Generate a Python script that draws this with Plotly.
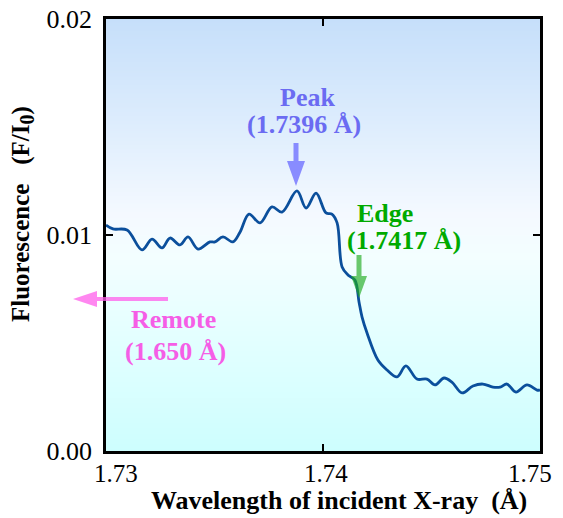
import plotly.graph_objects as go

# ---- data ----
wavelength = [1.73000, 1.73032, 1.73097, 1.73166, 1.73212, 1.73258, 1.73295, 1.73341,
              1.73378, 1.73424, 1.73479, 1.73502, 1.73539, 1.73585, 1.73618, 1.73659,
              1.73710, 1.73765, 1.73811, 1.73880, 1.73922, 1.73968, 1.74014, 1.74041,
              1.74065, 1.74088, 1.74115, 1.74147, 1.74166, 1.74180, 1.74203, 1.74253,
              1.74295, 1.74341, 1.74382, 1.74433, 1.74479, 1.74516, 1.74558, 1.74594,
              1.74641, 1.74691, 1.74737, 1.74783, 1.74816, 1.74848, 1.74889, 1.74940,
              1.74986, 1.75000]
fluorescence = [0.01046, 0.01028, 0.01023, 0.00931, 0.00981, 0.00940, 0.00986, 0.00954,
                0.00991, 0.00935, 0.00968, 0.00968, 0.00991, 0.00968, 0.01014, 0.01097,
                0.01056, 0.01130, 0.01106, 0.01204, 0.01125, 0.01194, 0.01102, 0.01097,
                0.01056, 0.00852, 0.00815, 0.00792, 0.00690, 0.00620, 0.00546, 0.00421,
                0.00375, 0.00343, 0.00394, 0.00333, 0.00333, 0.00306, 0.00338, 0.00319,
                0.00269, 0.00301, 0.00310, 0.00296, 0.00296, 0.00310, 0.00273, 0.00306,
                0.00282, 0.00282]

x_ticks = [1.73, 1.74, 1.75]
x_tick_labels = ["1.73", "1.74", "1.75"]
y_ticks = [0.00, 0.01, 0.02]
y_tick_labels = ["0.00", "0.01", "0.02"]

x_title = "Wavelength of incident X-ray\u00a0\u00a0(Å)"
y_title = "Fluorescence\u00a0\u00a0\u00a0(F/I<sub><span style=\"font-size:20px\">0</span></sub>)"

peak_lines = ["Peak", "(1.7396 Å)"]
edge_lines = ["Edge", "(1.7417 Å)"]
remote_lines = ["Remote", "(1.650 Å)"]

# background gradient stops (fraction of y range, colour)
bg_levels = [0.0, 0.25, 0.45, 0.55, 0.75, 1.0]
bg_colors = ["#cdfefe", "#e2ffff", "#f3feff", "#f4f9ff", "#deedfd", "#c6dffa"]

FONT = "Liberation Serif, Times New Roman, serif"

# plot-area pixel geometry: left 106, width 434, top 19, height 432
L, T, W, H = 106, 19, 434, 432
def px(xp):
    return (xp - L) / float(W)
def py(yp):
    return (T + H - yp) / float(H)

fig = go.Figure()

# gradient background via smoothed heatmap
ys = [0.02 * f for f in bg_levels]
fig.add_trace(go.Heatmap(
    x=[1.73, 1.75], y=ys, z=[[f, f] for f in bg_levels],
    colorscale=[[f, c] for f, c in zip(bg_levels, bg_colors)],
    zmin=0, zmax=1, zsmooth="best", showscale=False, hoverinfo="skip"))

fig.add_trace(go.Scatter(
    x=wavelength, y=fluorescence, mode="lines",
    line=dict(color="#0b4f9c", width=2.8, shape="spline", smoothing=1.0),
    hoverinfo="skip", showlegend=False))

ann = []
def txt(t, xp, yp, color, size, bold=True, angle=0):
    ann.append(dict(text=("<b>%s</b>" % t) if bold else t, xref="paper", yref="paper",
                    x=px(xp), y=py(yp), showarrow=False, textangle=angle,
                    xanchor="center", yanchor="middle",
                    font=dict(family=FONT, size=size, color=color)))

# callout labels
txt(peak_lines[0], 307, 98, "#6b6bf2", 26)
txt(peak_lines[1], 304, 124, "#6b6bf2", 26)
txt(edge_lines[0], 385, 213, "#00aa00", 26)
txt(edge_lines[1], 404, 240, "#00aa00", 26)
txt(remote_lines[0], 173, 319, "#f55ee6", 26)
txt(remote_lines[1], 175, 351, "#f55ee6", 26)

# x tick labels (first/last nudged inward as in the reference)
x_label_shift = [10, 3, -10]
for v, lab, sh in zip(x_ticks, x_tick_labels, x_label_shift):
    ann.append(dict(text=lab, xref="x", yref="paper", x=v, y=0, xshift=sh, yshift=-22,
                    showarrow=False, xanchor="center", yanchor="middle",
                    font=dict(family=FONT, size=25, color="black")))

# axis titles
txt(x_title, 339, 500, "black", 26)
txt(y_title, 23, 214, "black", 25, angle=-90)

# arrows drawn as pixel-sized polygons anchored at their tips
shapes = []
def arrow(tip_x, tip_y, length, head_len, head_w, stem_w, color, direction="down"):
    if direction == "down":
        pts = [(-stem_w / 2, length), (stem_w / 2, length), (stem_w / 2, head_len),
               (head_w / 2, head_len), (0, 0), (-head_w / 2, head_len), (-stem_w / 2, head_len)]
    else:  # pointing left: tail to the right
        pts = [(length, -stem_w / 2), (length, stem_w / 2), (head_len, stem_w / 2),
               (head_len, head_w / 2), (0, 0), (head_len, -head_w / 2), (head_len, -stem_w / 2)]
    path = "M " + " L ".join("%.1f,%.1f" % p for p in pts) + " Z"
    shapes.append(dict(type="path", xref="paper", yref="paper",
                       xsizemode="pixel", ysizemode="pixel",
                       xanchor=px(tip_x), yanchor=py(tip_y), path=path,
                       fillcolor=color, line=dict(width=0), layer="above"))

arrow(296, 186, 43, 25, 18, 5, "rgba(100,100,255,0.72)")
arrow(359, 298, 43, 22, 16, 5, "rgba(30,170,30,0.65)")
arrow(73, 299, 95, 24, 16, 4, "rgba(255,95,235,0.75)", direction="left")

fig.update_layout(
    width=563, height=518,
    margin=dict(l=L, r=563 - L - W, t=T, b=518 - T - H),
    paper_bgcolor="white", plot_bgcolor="white",
    showlegend=False,
    annotations=ann, shapes=shapes,
    font=dict(family=FONT, color="black"),
)
fig.update_xaxes(
    range=[1.73, 1.75], tickvals=x_ticks, showticklabels=False,
    ticks="inside", ticklen=7, tickwidth=2, tickcolor="black",
    showline=True, linewidth=2.5, linecolor="black", mirror="ticks",
    showgrid=False, zeroline=False, automargin=False,
)
fig.update_yaxes(
    range=[0, 0.02], tickvals=y_ticks, ticktext=y_tick_labels,
    ticks="inside", ticklen=7, tickwidth=2, tickcolor="black",
    showline=True, linewidth=2.5, linecolor="black", mirror="ticks",
    showgrid=False, zeroline=False, automargin=False,
    ticklabelstandoff=6,
    tickfont=dict(family=FONT, size=26, color="black"),
)

fig.write_html("out.html", config={"displayModeBar": False},
               post_script="document.body.style.margin='0';")
